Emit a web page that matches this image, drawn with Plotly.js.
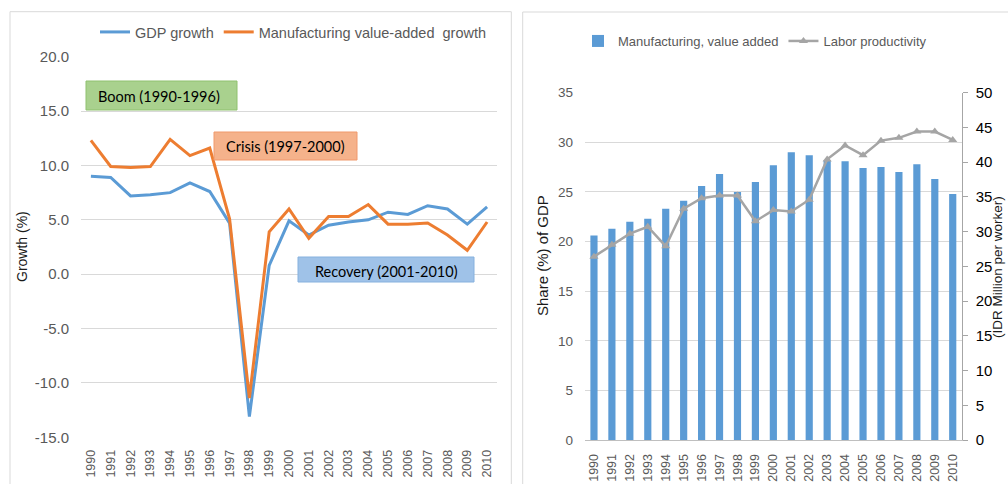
<!DOCTYPE html>
<html><head><meta charset="utf-8">
<script src="https://cdn.plot.ly/plotly-3.0.1.min.js"></script>
<style>html,body{margin:0;padding:0;background:#fff}#chart{width:1008px;height:484px}</style>
</head><body><div id="chart"></div>
<script>
// ---- data ----
const years = ['1990','1991','1992','1993','1994','1995','1996','1997','1998','1999','2000',
               '2001','2002','2003','2004','2005','2006','2007','2008','2009','2010'];
const gdpGrowth = [9.0, 8.9, 7.2, 7.3, 7.5, 8.4, 7.6, 4.7, -13.1, 0.8, 4.9,
                   3.6, 4.5, 4.8, 5.0, 5.7, 5.5, 6.3, 6.0, 4.6, 6.2];
const mfgGrowth = [12.3, 9.9, 9.8, 9.9, 12.4, 10.9, 11.6, 5.1, -11.4, 3.9, 6.0,
                   3.3, 5.3, 5.3, 6.4, 4.6, 4.6, 4.7, 3.6, 2.2, 4.8];
const mfgShare  = [20.6, 21.3, 22.0, 22.3, 23.3, 24.1, 25.6, 26.8, 25.0, 26.0, 27.7,
                   29.0, 28.7, 28.2, 28.1, 27.4, 27.5, 27.0, 27.8, 26.3, 24.8];
const laborProd = [26.4, 28.1, 29.7, 30.7, 27.9, 33.3, 34.8, 35.2, 35.2, 31.5, 33.1,
                   32.9, 34.6, 40.4, 42.4, 41.0, 43.1, 43.5, 44.4, 44.4, 43.2];
const leftYTicks = [-15, -10, -5, 0, 5, 10, 15, 20];
const leftYTickText = ['-15.0', '-10.0', '-5.0', '0.0', '5.0', '10.0', '15.0', '20.0'];

// ---- layout helpers ----
const W = 1008, H = 484;
const px = x => x / W;
const py = y => 1 - y / H;
const FONT = 'Liberation Sans, Arial, sans-serif';
const BOXFONT = 'Lato, Carlito, Calibri, sans-serif';

const traces = [
  {x: years, y: gdpGrowth, type: 'scatter', mode: 'lines', name: 'GDP growth',
   line: {color: '#5b9bd5', width: 3}, xaxis: 'x', yaxis: 'y', legend: 'legend'},
  {x: years, y: mfgGrowth, type: 'scatter', mode: 'lines', name: 'Manufacturing value-added\u00a0 growth',
   line: {color: '#ed7d31', width: 3}, xaxis: 'x', yaxis: 'y', legend: 'legend'},
  {x: years, y: mfgShare, type: 'bar', name: 'Manufacturing, value added',
   marker: {color: '#5b9bd5'}, xaxis: 'x2', yaxis: 'y2', legend: 'legend2'},
  {x: years, y: laborProd, type: 'scatter', mode: 'lines+markers', name: 'Labor productivity',
   line: {color: '#a5a5a5', width: 2.5}, marker: {symbol: 'triangle-up', size: 8, color: '#a5a5a5'},
   xaxis: 'x2', yaxis: 'y3', legend: 'legend2'}
];

const rect = (x0, y0, x1, y1, fill, line) => ({
  type: 'rect', xref: 'paper', yref: 'paper', x0: px(x0), x1: px(x1), y0: py(y1), y1: py(y0),
  fillcolor: fill, line: {color: line, width: 1}, layer: 'above'
});

const layout = {
  width: W, height: H,
  margin: {l: 0, r: 0, t: 0, b: 0},
  paper_bgcolor: '#fff', plot_bgcolor: 'rgba(0,0,0,0)',
  font: {family: FONT, color: '#595959'},
  bargap: 0.6,
  showlegend: true,
  xaxis: {
    domain: [px(81), px(497)], anchor: 'y', type: 'category', range: [-0.5, 20.5],
    showgrid: false, showline: false, zeroline: false, ticks: '',
    tickangle: -90, tickfont: {size: 12.5, color: '#595959'}, ticklabelstandoff: 9
  },
  yaxis: {
    domain: [py(437.3), py(56.7)], anchor: 'x', range: [-15, 20],
    tickmode: 'array', tickvals: leftYTicks, ticktext: leftYTickText,
    showgrid: true, gridcolor: '#d9d9d9', gridwidth: 1,
    zeroline: false, showline: false, ticks: '',
    tickfont: {size: 15, color: '#595959'}, ticklabelstandoff: 11
  },
  xaxis2: {
    domain: [px(585), px(961.7)], anchor: 'y2', type: 'category', range: [-0.5, 20.5],
    showgrid: false, showline: true, linecolor: '#bfbfbf', linewidth: 1, zeroline: false, ticks: '',
    tickangle: -90, tickfont: {size: 12.5, color: '#595959'}, ticklabelstandoff: 8
  },
  yaxis2: {
    domain: [py(440), py(92.7)], anchor: 'x2', range: [0, 35], dtick: 5,
    showgrid: true, gridcolor: '#d9d9d9', gridwidth: 1, zeroline: false, showline: false, ticks: '',
    tickfont: {size: 13.5, color: '#595959'}, ticklabelstandoff: 11
  },
  yaxis3: {
    domain: [py(440), py(92.7)], anchor: 'x2', overlaying: 'y2', side: 'right', range: [0, 50], dtick: 5,
    showgrid: false, zeroline: false, showline: true, linecolor: '#a6a6a6', linewidth: 1,
    ticks: 'outside', ticklen: 5, tickcolor: '#a6a6a6',
    tickfont: {size: 15, color: '#000'}, ticklabelstandoff: 5
  },
  legend: {
    orientation: 'h', x: px(95), xanchor: 'left', y: py(32), yanchor: 'middle',
    font: {size: 14.5, color: '#595959', family: FONT}, itemwidth: 30, bgcolor: 'rgba(0,0,0,0)',
    traceorder: 'normal'
  },
  legend2: {
    orientation: 'h', x: px(578), xanchor: 'left', y: py(41), yanchor: 'middle',
    font: {size: 13, color: '#595959', family: FONT}, itemwidth: 30, bgcolor: 'rgba(0,0,0,0)',
    traceorder: 'normal'
  },
  shapes: [
    // panel frames
    {type: 'rect', xref: 'paper', yref: 'paper', x0: px(10), x1: px(511.3), y0: py(495), y1: py(11.7),
     line: {color: '#d9d9d9', width: 1}, fillcolor: 'rgba(0,0,0,0)', layer: 'below'},
    {type: 'rect', xref: 'paper', yref: 'paper', x0: px(522.7), x1: px(1015), y0: py(495), y1: py(12),
     line: {color: '#d9d9d9', width: 1}, fillcolor: 'rgba(0,0,0,0)', layer: 'below'},
    // period boxes
    rect(86, 81, 237, 110, '#a9d18e', '#8fc16f'),
    rect(214, 132, 357, 160, '#f5b28b', '#f0996c'),
    rect(298, 257, 474, 282, '#9fc2e8', '#86b1de')
  ],
  annotations: [
    {text: 'Boom (1990-1996)', xref: 'paper', yref: 'paper', x: px(159), y: py(96),
     xanchor: 'center', yanchor: 'middle', showarrow: false, font: {family: BOXFONT, size: 14.5, color: '#000'}},
    {text: 'Crisis (1997-2000)', xref: 'paper', yref: 'paper', x: px(285.5), y: py(147),
     xanchor: 'center', yanchor: 'middle', showarrow: false, font: {family: BOXFONT, size: 14.5, color: '#000'}},
    {text: 'Recovery (2001-2010)', xref: 'paper', yref: 'paper', x: px(386), y: py(271),
     xanchor: 'center', yanchor: 'middle', showarrow: false, font: {family: BOXFONT, size: 14.5, color: '#000'}},
    {text: 'Growth (%)', xref: 'paper', yref: 'paper', x: px(22), y: py(247), textangle: -90,
     xanchor: 'center', yanchor: 'middle', showarrow: false, font: {family: FONT, size: 14, color: '#1a1a1a'}},
    {text: 'Share (%) of GDP', xref: 'paper', yref: 'paper', x: px(542), y: py(256), textangle: -90,
     xanchor: 'center', yanchor: 'middle', showarrow: false, font: {family: FONT, size: 15, color: '#1a1a1a'}},
    {text: '(IDR Million per worker)', xref: 'paper', yref: 'paper', x: px(997), y: py(267), textangle: -90,
     xanchor: 'center', yanchor: 'middle', showarrow: false, font: {family: FONT, size: 13.5, color: '#1a1a1a'}}
  ]
};

Plotly.newPlot('chart', traces, layout, {displayModeBar: false, staticPlot: true});
</script>
</body></html>
